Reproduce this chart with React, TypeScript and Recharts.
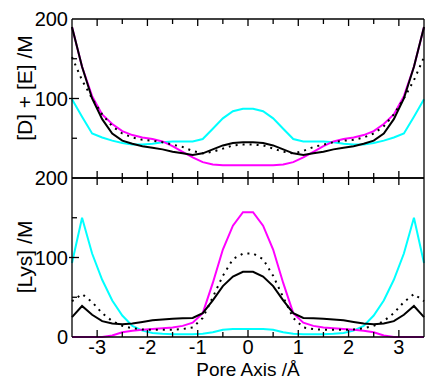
import React from 'react';
import { LineChart, Line, XAxis, YAxis } from 'recharts';

const xs = [-3.5, -3.3, -3.1, -2.9, -2.7, -2.5, -2.3, -2.1, -1.9, -1.7, -1.5, -1.3, -1.1, -0.9, -0.7, -0.5, -0.3, -0.1,
  0.1, 0.3, 0.5, 0.7, 0.9, 1.1, 1.3, 1.5, 1.7, 1.9, 2.1, 2.3, 2.5, 2.7, 2.9, 3.1, 3.3, 3.5];

// Top panel: [D] + [E]
const topMagenta = [190, 140, 103, 80, 68, 59, 54, 51, 49, 46, 40, 33, 26, 20, 17, 16, 16, 16,
  16, 16, 16, 17, 20, 26, 33, 40, 46, 49, 51, 54, 59, 68, 80, 103, 140, 190];
const topBlack = [190, 140, 100, 74, 56, 47, 43, 40, 38, 36, 33, 31, 29, 31, 36, 41, 44, 45,
  45, 44, 41, 36, 31, 29, 31, 33, 36, 38, 40, 43, 47, 56, 74, 100, 140, 190];
const topDotted = [152, 123, 100, 80, 65, 56, 51, 48, 47, 45, 42, 39, 34, 31, 33, 37, 41, 42,
  42, 41, 37, 33, 31, 34, 39, 42, 45, 47, 48, 51, 56, 65, 80, 100, 123, 152];
const topCyan = [99, 77, 56, 51, 47, 44, 42, 42, 43, 45, 46, 46, 46, 49, 62, 75, 84, 87,
  87, 84, 75, 62, 49, 46, 46, 46, 45, 43, 42, 42, 44, 47, 51, 56, 77, 99];

// Bottom panel: [Lys]
const botMagenta = [0, 0, 0, 0, 2, 6, 8, 9, 10, 11, 12, 14, 18, 30, 68, 110, 140, 157,
  157, 140, 110, 68, 30, 18, 14, 12, 11, 10, 9, 8, 6, 2, 0, 0, 0, 0];
const botBlack = [25, 39, 28, 20, 17, 16, 17, 19, 21, 22, 23, 23.5, 24, 30, 46, 64, 76, 82,
  82, 76, 64, 46, 30, 24, 23.5, 23, 22, 21, 19, 17, 16, 17, 20, 28, 39, 25];
const botDotted = [45, 54, 44, 30, 20, 14, 11, 9.5, 9, 9, 9, 10, 12, 24, 50, 77, 98, 105,
  105, 98, 77, 50, 24, 12, 10, 9, 9, 9, 9.5, 11, 14, 20, 30, 44, 54, 45];
const botCyan = [93, 150, 105, 72, 46, 27, 14, 8, 5, 4, 3.5, 3.5, 3.5, 4, 6, 9, 10, 10,
  10, 10, 9, 6, 4, 3.5, 3.5, 3.5, 4, 5, 8, 14, 27, 46, 72, 105, 150, 93];

const xTicks = [-3, -2.5, -2, -1.5, -1, -0.5, 0, 0.5, 1, 1.5, 2, 2.5, 3];
const yTicks = [0, 50, 100, 150, 200];
const topYLabels = [100, 200];
const botYLabels = [0, 100, 200];
const xTitle = 'Pore Axis /Å';
const topYTitle = '[D] + [E] /M';
const botYTitle = '[Lys] /M';

const topData = xs.map((x, i) => ({ x, m: topMagenta[i], k: topBlack[i], d: topDotted[i], c: topCyan[i] }));
const botData = xs.map((x, i) => ({ x, m: botMagenta[i], k: botBlack[i], d: botDotted[i], c: botCyan[i] }));

const FONT = '"Liberation Sans", Arial, Helvetica, sans-serif';
const SW = 1.3;

const makeXBottomTick = (withLabels: boolean) => (props: any) => {
  const { x, y, payload } = props;
  const v = payload.value as number;
  const major = Number.isInteger(v);
  const len = major ? 7 : 5;
  return (
    <g>
      <line x1={x} x2={x} y1={y} y2={y - len} stroke="#000" strokeWidth={SW} />
      {withLabels && major ? (
        <text x={x} y={y + 17} textAnchor="middle" fontSize={20} fontFamily={FONT} fill="#000">
          {String(v)}
        </text>
      ) : null}
    </g>
  );
};

const xTopTick = (props: any) => {
  const { x, y, payload } = props;
  const v = payload.value as number;
  const len = Number.isInteger(v) ? 7 : 5;
  return <line x1={x} x2={x} y1={y} y2={y + len} stroke="#000" strokeWidth={SW} />;
};

const makeYLeftTick = (labels: number[]) => (props: any) => {
  const { x, y, payload } = props;
  const v = payload.value as number;
  const edge = v === 0 || v === 200;
  const major = v % 100 === 0;
  return (
    <g>
      {!edge ? (
        major ? (
          <line x1={x - 3} x2={x + 7} y1={y} y2={y} stroke="#000" strokeWidth={SW} />
        ) : (
          <line x1={x} x2={x + 5} y1={y} y2={y} stroke="#000" strokeWidth={SW} />
        )
      ) : null}
      {labels.includes(v) ? (
        <text x={x - 4} y={y + 7} textAnchor="end" fontSize={20} fontFamily={FONT} fill="#000">
          {String(v)}
        </text>
      ) : null}
    </g>
  );
};

const yRightTick = (props: any) => {
  const { x, y, payload } = props;
  const v = payload.value as number;
  if (v === 0 || v === 200) return <g />;
  const len = v % 100 === 0 ? 7 : 5;
  return <line x1={x} x2={x - len} y1={y} y2={y} stroke="#000" strokeWidth={SW} />;
};

const axisLine = { stroke: '#000', strokeWidth: SW };

function Panel(props: {
  data: any[];
  topH: number;
  bottomH: number;
  bottomLabels: boolean;
  yLabels: number[];
}) {
  const { data, topH, bottomH, bottomLabels, yLabels } = props;
  return (
    <LineChart width={425} height={381} data={data} margin={{ top: 0, right: 0, bottom: 0, left: 0 }}>
      <XAxis
        xAxisId="b"
        dataKey="x"
        type="number"
        domain={[-3.5, 3.5]}
        ticks={xTicks}
        orientation="bottom"
        height={bottomH}
        tickSize={0}
        tickMargin={0}
        tickLine={false}
        axisLine={axisLine}
        tick={makeXBottomTick(bottomLabels)}
        interval={0}
      />
      <XAxis
        xAxisId="t"
        dataKey="x"
        type="number"
        domain={[-3.5, 3.5]}
        ticks={xTicks}
        orientation="top"
        height={topH}
        tickSize={0}
        tickMargin={0}
        tickLine={false}
        axisLine={axisLine}
        tick={xTopTick}
        interval={0}
      />
      <YAxis
        yAxisId="l"
        type="number"
        domain={[0, 200]}
        ticks={yTicks}
        orientation="left"
        width={72}
        tickSize={0}
        tickMargin={0}
        tickLine={false}
        axisLine={axisLine}
        tick={makeYLeftTick(yLabels)}
        interval={0}
      />
      <YAxis
        yAxisId="r"
        type="number"
        domain={[0, 200]}
        ticks={yTicks}
        orientation="right"
        width={1}
        tickSize={0}
        tickMargin={0}
        tickLine={false}
        axisLine={axisLine}
        tick={yRightTick}
        interval={0}
      />
      <Line xAxisId="b" yAxisId="l" dataKey="c" stroke="#00ffff" strokeWidth={2} dot={false} isAnimationActive={false} type="linear" />
      <Line xAxisId="b" yAxisId="l" dataKey="m" stroke="#ff00ff" strokeWidth={2} dot={false} isAnimationActive={false} type="linear" />
      <Line xAxisId="b" yAxisId="l" dataKey="d" stroke="#000" strokeWidth={2} strokeDasharray="2 5" dot={false} isAnimationActive={false} type="linear" />
      <Line xAxisId="b" yAxisId="l" dataKey="k" stroke="#000" strokeWidth={2} dot={false} isAnimationActive={false} type="linear" />
    </LineChart>
  );
}

export default function App() {
  return (
    <div style={{ position: 'absolute', left: 0, top: 0, width: 425, height: 381, background: '#fff' }}>
      <div style={{ position: 'absolute', left: 0, top: 0 }}>
        <Panel data={topData} topH={19} bottomH={381 - 178} bottomLabels={false} yLabels={topYLabels} />
      </div>
      <div style={{ position: 'absolute', left: 0, top: 0 }}>
        <Panel data={botData} topH={178} bottomH={381 - 337} bottomLabels={true} yLabels={botYLabels} />
      </div>
      <svg style={{ position: 'absolute', left: 0, top: 0 }} width={425} height={381}>
        <text x={0} y={0} transform="translate(32,88) rotate(-90)" textAnchor="middle" fontSize={21} fontFamily={FONT} fill="#000">
          {topYTitle}
        </text>
        <text x={0} y={0} transform="translate(32,257) rotate(-90)" textAnchor="middle" fontSize={21} fontFamily={FONT} fill="#000">
          {botYTitle}
        </text>
        <text x={248} y={376} textAnchor="middle" fontSize={19} fontFamily={FONT} fill="#000">
          {xTitle}
        </text>
      </svg>
    </div>
  );
}
